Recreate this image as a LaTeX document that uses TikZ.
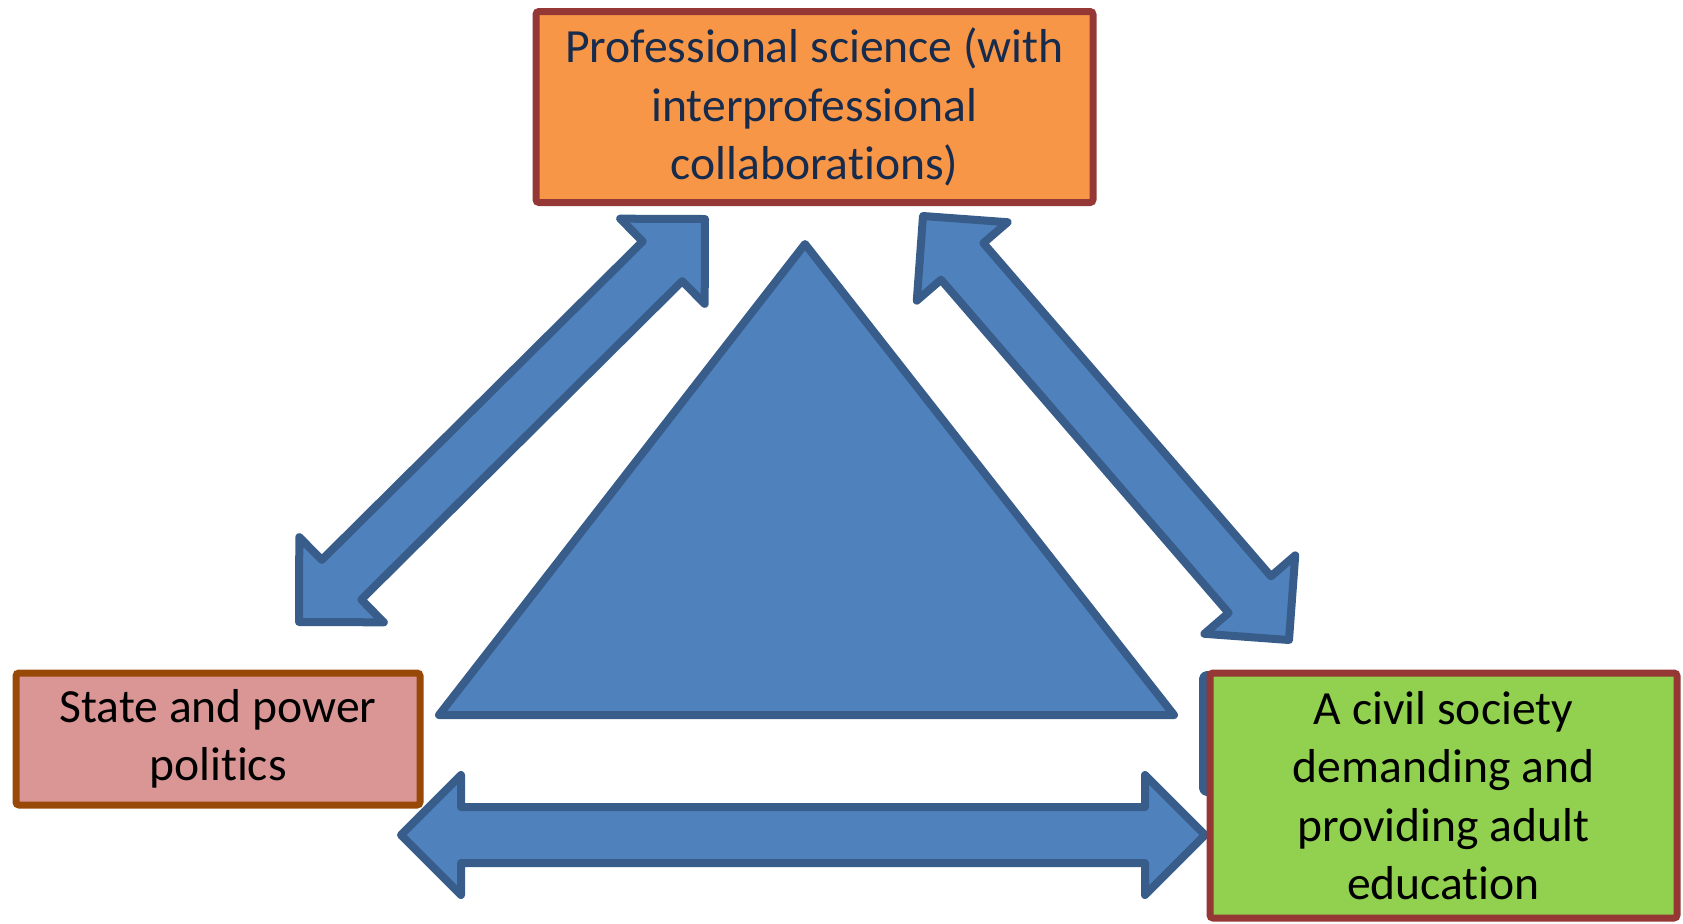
\documentclass[tikz,border=0pt]{standalone}
\usepackage{fontspec}
\setmainfont[Ligatures={NoCommon,NoContextual}]{Carlito}
\usetikzlibrary{calc}
\definecolor{orangefill}{HTML}{F79646}
\definecolor{redline}{HTML}{953735}
\definecolor{pinkfill}{HTML}{D99694}
\definecolor{brownline}{HTML}{984807}
\definecolor{greenfill}{HTML}{92D050}
\definecolor{bluefill}{HTML}{4F81BD}
\definecolor{blueline}{HTML}{385D8A}
\definecolor{navytext}{HTML}{172B4D}
\tikzset{
  boxbase/.style={rectangle, rounded corners=1.5pt, line width=3.5pt, align=center,
    inner sep=0pt, font=\fontsize{23.8}{29.2}\selectfont},
  blueshape/.style={fill=bluefill, draw=blueline, line width=4pt, line join=round},
}
\newcommand\blockarrow[2]{%
  \coordinate (#1-h) at ($(#1)!30pt!(#2)$);
  \coordinate (#2-h) at ($(#2)!30pt!(#1)$);
  \draw[blueshape] (#1)
    -- ($(#1-h)!30pt!90:(#2)$) -- ($(#1-h)!14pt!90:(#2)$)
    -- ($(#2-h)!14pt!-90:(#1)$) -- ($(#2-h)!30pt!-90:(#1)$)
    -- (#2)
    -- ($(#2-h)!30pt!90:(#1)$) -- ($(#2-h)!14pt!90:(#1)$)
    -- ($(#1-h)!14pt!-90:(#2)$) -- ($(#1-h)!30pt!-90:(#2)$)
    -- cycle;
}
\begin{document}
\begin{tikzpicture}[x=0.5pt,y=-0.5pt]
\useasboundingbox (0,0) rectangle (1683,923);
% central triangle
\draw[blueshape] (805,244) -- (1174,715) -- (439,715) -- cycle;
% arrow tips
\coordinate (la) at (299,622);
\coordinate (lb) at (705,219);
\coordinate (ra) at (923,216);
\coordinate (rb) at (1289,640);
\coordinate (ha) at (401,835);
\coordinate (hb) at (1205,835);
\blockarrow{la}{lb}
\blockarrow{ra}{rb}
\blockarrow{ha}{hb}
% partly hidden blue shape behind the right box
\draw[blueshape, rounded corners=2pt] (1203,675) rectangle (1260,792);
% boxes
\node[boxbase, fill=orangefill, draw=redline, text=navytext,
  minimum width=278.5pt, minimum height=95.5pt] (science) at (814.5,107)
  {Professional science (with\\interprofessional\\collaborat\kern0pt ions)};
\node[boxbase, fill=pinkfill, draw=brownline, text=black,
  minimum width=202pt, minimum height=66pt] (state) at (218,739)
  {State and power\\polit\kern0pt ics};
\node[boxbase, fill=greenfill, draw=redline, text=black,
  minimum width=233.5pt, minimum height=122.5pt] (civil) at (1443.5,795.5)
  {A civil society\\demanding and\\providing adult\\educat\kern0pt ion};
\end{tikzpicture}
\end{document}
